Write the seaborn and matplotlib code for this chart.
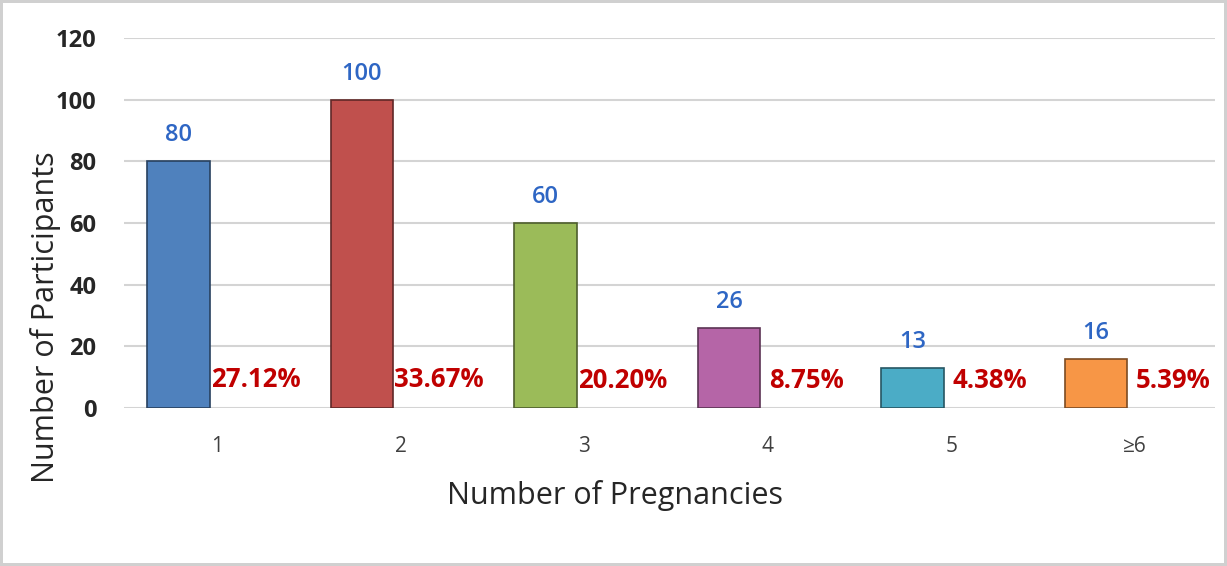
import pandas as pd
import matplotlib.pyplot as plt
import seaborn as sns
from matplotlib.colors import to_rgb

# values
pregnancies = ["1", "2", "3", "4", "5", "≥6"]
participants = [80, 100, 60, 26, 13, 16]
percentages = [27.12, 33.67, 20.20, 8.75, 4.38, 5.39]
bar_colors = ["#4F81BD", "#C0504D", "#9BBB59", "#B565A7", "#4BACC6", "#F79646"]

df = pd.concat([
    pd.DataFrame({"pregnancies": pregnancies, "series": "count", "value": participants}),
    pd.DataFrame({"pregnancies": pregnancies, "series": "percent",
                  "value": [p / 100 for p in percentages]}),
])

sns.set_style("white")
plt.rcParams["font.family"] = ["Open Sans", "DejaVu Sans"]

fig = plt.figure(figsize=(12.27, 5.66), dpi=100, facecolor="white",
                 edgecolor="#d0d0d0", linewidth=3)
ax = fig.add_axes([0.101, 0.279, 0.889, 0.654])

sns.barplot(data=df, x="pregnancies", y="value", hue="series", order=pregnancies,
            width=0.84, gap=0.19, palette=["#4F81BD", "#ffffff"], legend=False, ax=ax)

count_bars, pct_bars = ax.containers[0], ax.containers[1]
for patch, col in zip(count_bars, bar_colors):
    r, g, b = to_rgb(col)
    patch.set_facecolor(col)
    patch.set_edgecolor((r * 0.5, g * 0.5, b * 0.5))
    patch.set_linewidth(1.2)
    patch.set_zorder(3)
for patch in pct_bars:
    patch.set_alpha(0)

ax.bar_label(count_bars, labels=[str(v) for v in participants], padding=10,
             color="#2E66C4", fontsize=17, fontweight="semibold")
ax.bar_label(pct_bars, labels=[f"{p:.2f}%" for p in percentages], padding=10,
             color="#C00000", fontsize=18.5, fontweight="bold", zorder=4)

ax.set_ylim(0, 120)
ax.set_xlim(-0.507, 5.436)
ax.set_yticks(range(0, 121, 20))
ax.yaxis.grid(True, color="#d4d4d4", linewidth=1.5)
ax.set_axisbelow(True)
for s in ax.spines.values():
    s.set_visible(False)
ax.tick_params(axis="y", length=0, pad=20, labelsize=17)
ax.tick_params(axis="x", length=0, pad=20, labelsize=15, labelcolor="#404040")
for t in ax.get_yticklabels():
    t.set_fontweight("bold")

ax.set_xlabel("Number of Pregnancies", fontsize=22)
ax.set_ylabel("Number of Participants", fontsize=22)
# labels sit centred on the figure rather than the plot area
ax.xaxis.set_label_coords(0.45, -0.195)
ax.yaxis.set_label_coords(-0.058, 0.246)

fig.savefig("out.png", dpi=100, facecolor=fig.get_facecolor(),
            edgecolor=fig.get_edgecolor())
